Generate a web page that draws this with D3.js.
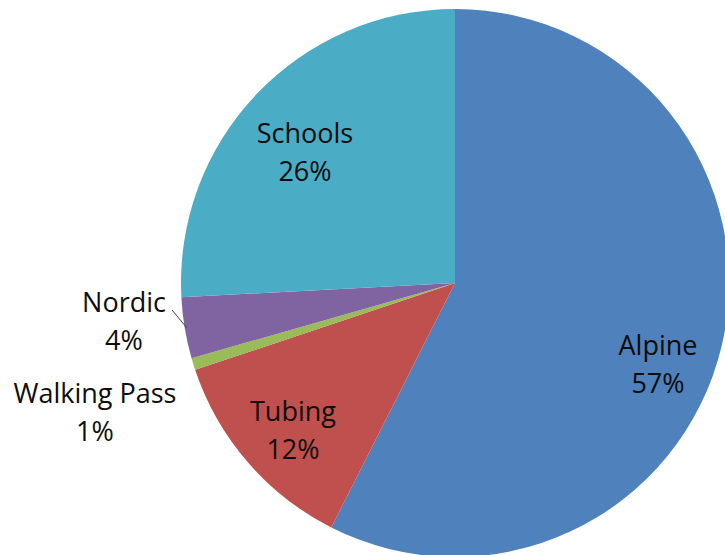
<!DOCTYPE html>
<html>
<head>
<meta charset="utf-8">
<script src="https://cdn.jsdelivr.net/npm/d3@7"></script>
<style>
  html, body { margin: 0; padding: 0; background: #fff; }
  svg { display: block; }
</style>
</head>
<body>
<svg id="chart" width="725" height="555"></svg>
<script>
const categories = ["Alpine", "Tubing", "Walking Pass", "Nordic", "Schools"];
const values = [57.4, 12.4, 0.7, 3.6, 25.8];
const percentLabels = ["57%", "12%", "1%", "4%", "26%"];
const colors = ["#4F81BD", "#C0504D", "#9BBB59", "#8064A2", "#4BACC6"];

const W = 725, H = 555;
const cx = 455, cy = 283, R = 274;

const svg = d3.select("#chart");
const g = svg.append("g").attr("transform", `translate(${cx},${cy})`);

const data = categories.map((c, i) => ({ name: c, value: values[i], pct: percentLabels[i], color: colors[i] }));
const pie = d3.pie().sort(null).value(d => d.value);
const arc = d3.arc().innerRadius(0).outerRadius(R);
const arcs = pie(data);

g.selectAll("path.slice")
  .data(arcs)
  .join("path")
  .attr("class", "slice")
  .attr("d", arc)
  .attr("fill", d => d.data.color);

// label layout: [centre x, baseline of first line]
const labelPos = {
  "Alpine": [658, 355],
  "Tubing": [293, 421],
  "Walking Pass": [95, 403],
  "Nordic": [124, 312],
  "Schools": [305, 143]
};
const lineGap = 38;

const labels = svg.append("g")
  .attr("font-family", "'Open Sans', 'Liberation Sans', sans-serif")
  .attr("font-size", 27)
  .attr("fill", "#0d0d0d")
  .attr("text-anchor", "middle");

arcs.forEach(a => {
  const [x, y] = labelPos[a.data.name];
  labels.append("text").attr("x", x).attr("y", y).text(a.data.name);
  labels.append("text").attr("x", x).attr("y", y + lineGap).text(a.data.pct);
});

// leader line for Nordic
const nordic = arcs.find(a => a.data.name === "Nordic");
const mid = (nordic.startAngle + nordic.endAngle) / 2;
const px = cx + Math.sin(mid) * (R - 2);
const py = cy - Math.cos(mid) * (R - 2);
svg.append("line")
  .attr("x1", 172).attr("y1", 310)
  .attr("x2", px).attr("y2", py)
  .attr("stroke", "#404040")
  .attr("stroke-width", 1);
</script>
</body>
</html>
